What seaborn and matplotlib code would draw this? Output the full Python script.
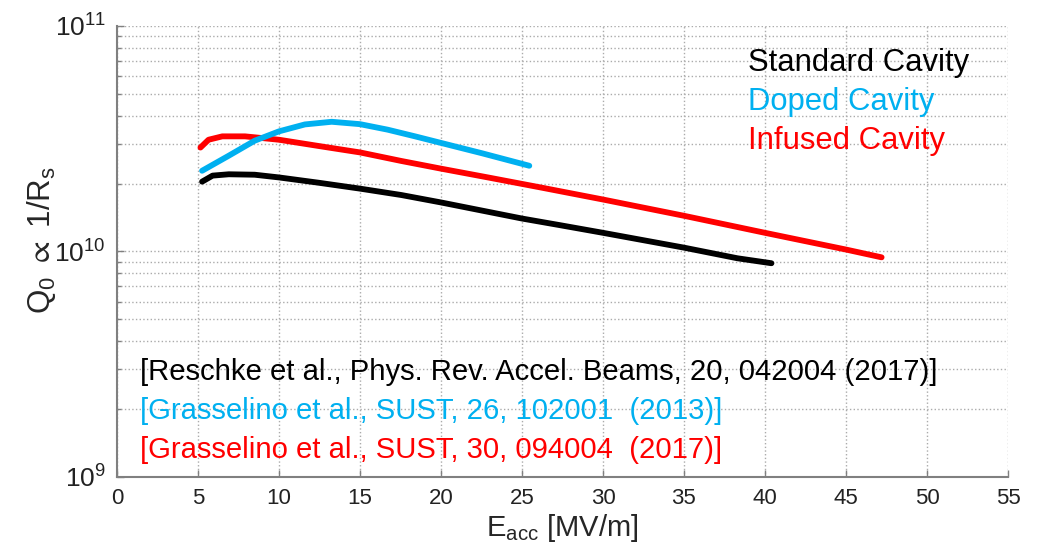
import matplotlib
matplotlib.use("Agg")
import matplotlib.pyplot as plt
import matplotlib.ticker as mticker
import seaborn as sns
import pandas as pd
import numpy as np

# ---- data ----
std_E = [5.25, 5.9, 6.9, 8.5, 10.0, 12.4, 15.0, 17.55, 20.0, 25.0, 27.3, 30.0, 35.0, 38.3, 40.4]
std_Q = [2.04e10, 2.17e10, 2.20e10, 2.19e10, 2.13e10, 2.02e10, 1.90e10, 1.78e10, 1.65e10,
         1.40e10, 1.31e10, 1.21e10, 1.04e10, 9.33e9, 8.87e9]

inf_E = [5.15, 5.65, 6.5, 7.9, 10.0, 12.4, 15.0, 17.55, 20.0, 22.9, 26.2, 30.0, 35.0,
         40.0, 45.0, 47.2]
inf_Q = [2.89e10, 3.13e10, 3.24e10, 3.24e10, 3.13e10, 2.94e10, 2.75e10, 2.52e10,
         2.33e10, 2.13e10, 1.92e10, 1.70e10, 1.44e10, 1.21e10, 1.02e10, 9.42e9]

dop_E = [5.25, 6.9, 8.5, 10.0, 11.6, 13.25, 15.0, 16.7, 18.4, 20.0, 22.5, 25.45]
dop_Q = [2.28e10, 2.66e10, 3.10e10, 3.41e10, 3.66e10, 3.76e10, 3.67e10, 3.47e10,
         3.24e10, 3.03e10, 2.73e10, 2.40e10]

series_names = ["Standard Cavity", "Infused Cavity", "Doped Cavity"]
series_colors = ["#000000", "#FF0000", "#00B0F0"]

legend_labels = ["Standard Cavity", "Doped Cavity", "Infused Cavity"]
legend_colors = ["#000000", "#00B0F0", "#FF0000"]

refs = ["[Reschke et al., Phys. Rev. Accel. Beams, 20, 042004 (2017)]",
        "[Grasselino et al., SUST, 26, 102001  (2013)]",
        "[Grasselino et al., SUST, 30, 094004  (2017)]"]
ref_colors = ["#000000", "#00B0F0", "#FF0000"]

x_ticks = list(range(0, 56, 5))

df = pd.concat([
    pd.DataFrame({"E": std_E, "Q": std_Q, "s": series_names[0]}),
    pd.DataFrame({"E": inf_E, "Q": inf_Q, "s": series_names[1]}),
    pd.DataFrame({"E": dop_E, "Q": dop_Q, "s": series_names[2]}),
], ignore_index=True)

sns.set_style("white")
plt.rcParams["font.family"] = ["Liberation Sans", "DejaVu Sans"]
plt.rcParams["mathtext.fontset"] = "custom"
plt.rcParams["mathtext.rm"] = "Liberation Sans"
plt.rcParams["mathtext.it"] = "Liberation Sans"
plt.rcParams["mathtext.bf"] = "Liberation Sans:bold"
plt.rcParams["mathtext.fallback"] = "stixsans"

fig = plt.figure(figsize=(10.43, 5.46), dpi=100)
ax = fig.add_axes([0.1122, 0.1264, 0.8542, 0.8260])

sns.lineplot(data=df, x="E", y="Q", hue="s", hue_order=series_names,
             palette=dict(zip(series_names, series_colors)), sort=False,
             estimator=None, linewidth=4.2, legend=False, ax=ax)

ax.set_yscale("log")
ax.set_xlim(0, 55)
ax.set_ylim(1e9, 1e11)
ax.set_xticks(x_ticks)
ax.yaxis.set_major_locator(mticker.LogLocator(base=10, numticks=10))
ax.yaxis.set_major_formatter(mticker.FuncFormatter(
    lambda v, p: r"$\mathregular{10^{%d}}$" % int(round(np.log10(v)))))
ax.yaxis.set_minor_locator(mticker.LogLocator(base=10, subs=np.arange(2, 10), numticks=20))
ax.yaxis.set_minor_formatter(mticker.NullFormatter())

ax.grid(True, which="major", axis="both", linestyle=":", color="#ababab", linewidth=1.0)
ax.grid(True, which="minor", axis="y", linestyle=":", color="#ababab", linewidth=1.0)

for side in ["top", "right"]:
    ax.spines[side].set_visible(False)
for side in ["left", "bottom"]:
    ax.spines[side].set_color("#808080")
    ax.spines[side].set_linewidth(1.5)

ax.tick_params(axis="both", which="major", direction="in", length=5, width=1,
               color="#808080", labelcolor="#222222", pad=8)
ax.tick_params(axis="x", which="major", labelsize=16)
ax.tick_params(axis="y", which="major", labelsize=19)
ax.tick_params(axis="y", which="minor", direction="in", length=3, width=1,
               color="#808080")
ax.tick_params(axis="y", which="both", left=True)
ax.tick_params(axis="x", which="major", bottom=True)

ax.set_xlabel(r"E$_{\mathregular{acc}}$ [MV/m]", fontsize=21, labelpad=2)
ax.set_ylabel(r"Q$_{\mathregular{0}}$ $\propto$ 1/R$_{\mathregular{s}}$", fontsize=22.5)
ax.yaxis.set_label_coords(-0.066, 0.525)

for i, (lab, col) in enumerate(zip(legend_labels, legend_colors)):
    ax.text(0.708, 0.918 - i * 0.0865, lab, color=col, fontsize=22.3,
            transform=ax.transAxes, ha="left", va="center")

for i, (lab, col) in enumerate(zip(refs, ref_colors)):
    ax.text(0.026, 0.233 - i * 0.0865, lab, color=col, fontsize=21.1,
            transform=ax.transAxes, ha="left", va="center")

fig.savefig("out.png", dpi=100)
